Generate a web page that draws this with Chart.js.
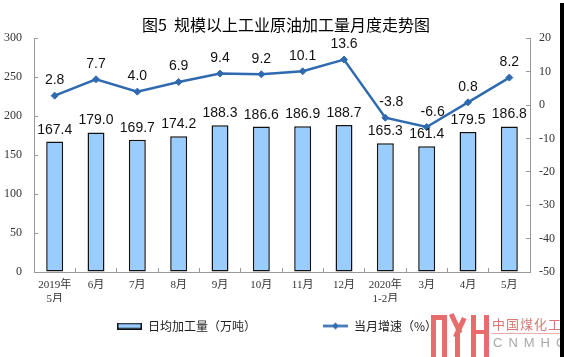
<!DOCTYPE html>
<html><head><meta charset="utf-8">
<script src="https://cdn.jsdelivr.net/npm/chart.js@4.4.0/dist/chart.umd.min.js"></script>
<style>
html,body{margin:0;padding:0;background:#fff;}
#wrap{position:relative;width:564px;height:357px;overflow:hidden;background:#fff;}
canvas{display:block;}
.lg{position:absolute;background:#E86C6C;}
.t1{position:absolute;left:492px;top:314px;font:13px "Noto Sans CJK SC",sans-serif;color:#D87878;letter-spacing:1px;white-space:nowrap;}
.ul{position:absolute;left:491px;top:333px;width:73px;height:1px;background:#F0AAAA;}
.t2{position:absolute;left:493px;top:335px;font:13px "Liberation Sans",sans-serif;color:#A8A8A8;letter-spacing:6px;white-space:nowrap;}
.strip{position:absolute;left:560px;top:3px;width:4px;height:354px;background:#000;}
</style></head><body>
<div id="wrap">
<canvas id="c" width="564" height="357"></canvas>
<div class="lg" style="left:431px;top:315px;width:5px;height:42px"></div>
<div class="lg" style="left:431px;top:315px;width:16px;height:5px"></div>
<div class="lg" style="left:442px;top:315px;width:5px;height:42px"></div>
<div class="lg" style="left:449px;top:315px;width:5px;height:21px;transform-origin:0 0;transform:rotate(-25deg)"></div>
<div class="lg" style="left:462px;top:317px;width:5px;height:21px;transform-origin:0 0;transform:rotate(25deg)"></div>
<div class="lg" style="left:455px;top:333px;width:5px;height:24px"></div>
<div class="lg" style="left:471px;top:315px;width:5px;height:42px"></div>
<div class="lg" style="left:484px;top:315px;width:5px;height:42px"></div>
<div class="lg" style="left:471px;top:330px;width:18px;height:4px"></div>
<div class="t1">中国煤化工</div>
<div class="ul"></div>
<div class="t2">CNMHG</div>
<div class="strip"></div>
</div>
<script>
const categories = [["2019年","5月"],"6月","7月","8月","9月","10月","11月","12月",["2020年","1-2月"],"3月","4月","5月"];
const dailyOutput = [167.4,179.0,169.7,174.2,188.3,186.6,186.9,188.7,165.3,161.4,179.5,186.8];
const growthRate = [2.8,7.7,4.0,6.9,9.4,9.2,10.1,13.6,-3.8,-6.6,0.8,8.2];
const leftTicks = [0,50,100,150,200,250,300];
const rightTicks = [-50,-40,-30,-20,-10,0,10,20];
const titleText = "图5  规模以上工业原油加工量月度走势图";
const barLegend = "日均加工量（万吨）";
const lineLegend = "当月增速（%）";

const BAR_FILL = '#99CCFF', BAR_EDGE = '#111111', LINE_COLOR = '#2F6AB0';
const CJK = '"Noto Sans CJK SC", sans-serif';
const TICKFONT = '"Liberation Serif", "Noto Sans CJK SC", serif';

function icon(w, h, draw){ const c = document.createElement('canvas'); c.width = w; c.height = h; draw(c.getContext('2d')); return c; }
const barIcon = icon(25, 7, g => { g.fillStyle = BAR_FILL; g.fillRect(0,0,25,7); g.strokeStyle = BAR_EDGE; g.lineWidth = 1.5; g.strokeRect(0.75,0.75,23.5,5.5); });
const lineIcon = icon(25, 9, g => { g.strokeStyle = LINE_COLOR; g.lineWidth = 2.5; g.beginPath(); g.moveTo(0,4.5); g.lineTo(25,4.5); g.stroke();
  g.fillStyle = LINE_COLOR; g.beginPath(); g.moveTo(12.5,1); g.lineTo(16,4.5); g.lineTo(12.5,8); g.lineTo(9,4.5); g.closePath(); g.fill(); });
const blankIcon = icon(1, 1, g => {});

const valueLabels = {
  id: 'valueLabels',
  afterDatasetsDraw(chart) {
    const ctx = chart.ctx;
    ctx.save();
    ctx.font = '14px "Liberation Sans", Arial, sans-serif';
    ctx.fillStyle = '#111';
    ctx.textAlign = 'center';
    ctx.textBaseline = 'alphabetic';
    chart.getDatasetMeta(0).data.forEach((el, i) => ctx.fillText(dailyOutput[i].toFixed(1), el.x, el.y - 8));
    chart.getDatasetMeta(1).data.forEach((el, i) => {
      const v = growthRate[i];
      ctx.fillText(v.toFixed(1), el.x + (v < 0 ? 6 : 0), el.y - 11.5);
    });
    ctx.restore();
  }
};

const nudgeBoxes = {
  id: 'nudgeBoxes',
  afterLayout(chart) {
    if (chart.legend) { chart.legend.left -= 5; chart.legend.right -= 5; }
    if (chart.titleBlock) { chart.titleBlock.left += 4; chart.titleBlock.right += 4; }
  }
};

new Chart(document.getElementById('c'), {
  data: {
    labels: categories,
    datasets: [
      { type: 'bar', label: barLegend, data: dailyOutput, yAxisID: 'y', order: 0,
        backgroundColor: BAR_FILL, borderColor: BAR_EDGE, borderWidth: 1.5, borderSkipped: false,
        categoryPercentage: 1, barPercentage: 0.41 },
      { type: 'line', label: lineLegend, data: growthRate, yAxisID: 'y2', order: -1,
        borderColor: LINE_COLOR, backgroundColor: LINE_COLOR, borderWidth: 2.5, tension: 0,
        pointStyle: 'rectRot', pointRadius: 3.5, pointBackgroundColor: LINE_COLOR, pointBorderColor: LINE_COLOR, pointBorderWidth: 1 }
    ]
  },
  options: {
    responsive: false, animation: false, devicePixelRatio: 1,
    layout: { padding: { left: 0, right: 0, top: 0, bottom: 15 } },
    plugins: {
      tooltip: { enabled: false },
      title: { display: true, text: titleText, color: '#000', font: { family: CJK, size: 16, weight: 'normal' }, padding: { top: 15, bottom: 4 } },
      legend: {
        position: 'bottom',
        labels: {
          usePointStyle: true, pointStyleWidth: 25, padding: 18, color: '#222',
          font: { family: CJK, size: 12 },
          generateLabels: () => [
            { text: barLegend, pointStyle: barIcon, fillStyle: BAR_FILL, strokeStyle: BAR_EDGE, lineWidth: 0, hidden: false, datasetIndex: 0, fontColor: '#222' },
            { text: '', pointStyle: blankIcon, fillStyle: 'rgba(0,0,0,0)', strokeStyle: 'rgba(0,0,0,0)', lineWidth: 0, hidden: false, fontColor: '#222' },
            { text: lineLegend, pointStyle: lineIcon, fillStyle: LINE_COLOR, strokeStyle: LINE_COLOR, lineWidth: 0, hidden: false, datasetIndex: 1, fontColor: '#222' }
          ]
        }
      }
    },
    scales: {
      x: {
        type: 'category', offset: true,
        grid: { display: true, drawOnChartArea: false, offset: true, tickLength: -4, color: '#999', tickColor: '#999' },
        border: { display: true, color: '#999', width: 1 },
        ticks: { color: '#333', font: { family: TICKFONT, size: 11 }, padding: 11, maxRotation: 0, autoSkip: false },
        afterFit: s => { s.height = 30; }
      },
      y: {
        position: 'left', min: 0, max: 300,
        afterBuildTicks: s => { s.ticks = leftTicks.map(v => ({ value: v })); },
        grid: { display: true, drawOnChartArea: false, tickLength: -4, color: '#999', tickColor: '#999' },
        border: { display: true, color: '#999', width: 1 },
        ticks: { color: '#333', font: { family: TICKFONT, size: 12 }, padding: 16 },
        afterFit: s => { s.width = 34; }
      },
      y2: {
        position: 'right', min: -50, max: 20,
        afterBuildTicks: s => { s.ticks = rightTicks.map(v => ({ value: v })); },
        grid: { display: true, drawOnChartArea: false, tickLength: -4, color: '#999', tickColor: '#999' },
        border: { display: true, color: '#999', width: 1 },
        ticks: { color: '#333', font: { family: TICKFONT, size: 12 }, padding: 13 },
        afterFit: s => { s.width = 34; }
      }
    }
  },
  plugins: [valueLabels, nudgeBoxes]
});
</script>
</body></html>
